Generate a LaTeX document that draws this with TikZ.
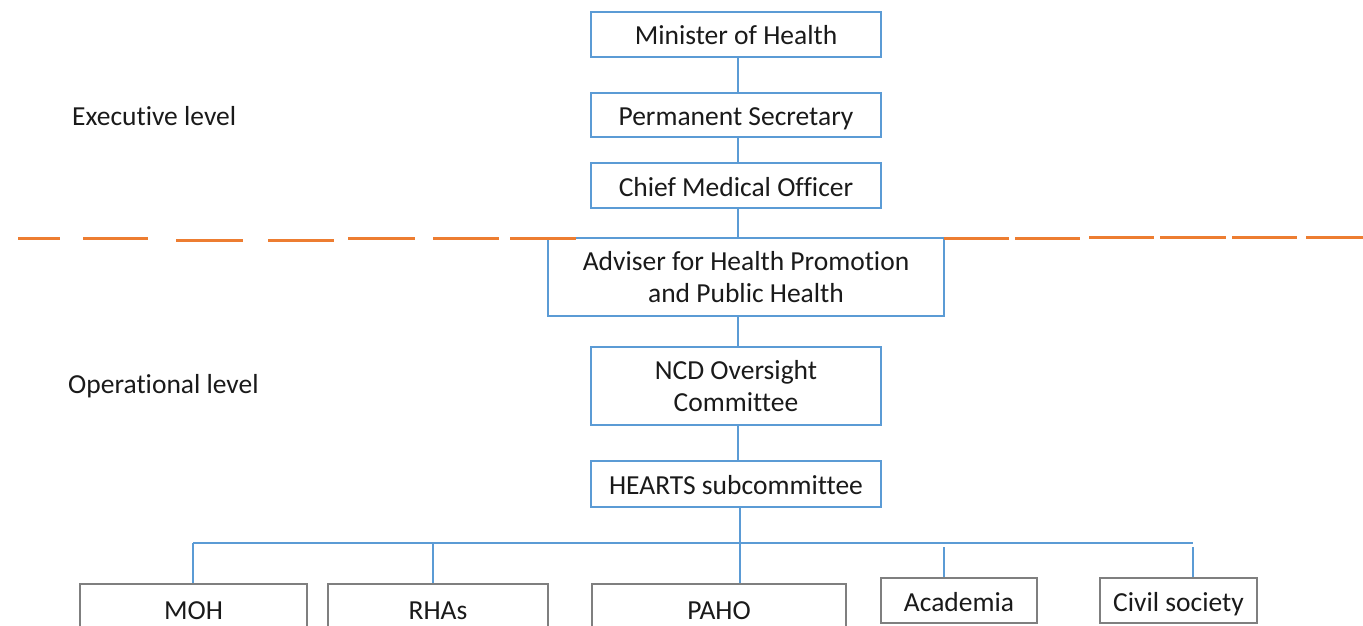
\documentclass[tikz,border=0pt]{standalone}
\usepackage{fontspec}
\setmainfont[Ligatures=NoCommon]{Carlito}
\definecolor{boxblue}{HTML}{5B9BD5}
\definecolor{dashorange}{HTML}{ED7D31}
\definecolor{boxgray}{HTML}{7F7F7F}
\definecolor{txt}{HTML}{1A1A1A}
\begin{document}
\begin{tikzpicture}[x=1pt,y=-1pt,
  every node/.style={text=txt,font=\fontsize{27.5}{32}\selectfont},
  bluebox/.style={draw=boxblue,line width=2.2pt,minimum width=290pt,inner sep=0pt,align=center},
  oneline/.style={text height=21pt,text depth=0pt},
  graybox/.style={draw=boxgray,line width=1.5pt,inner sep=0pt,align=center,text height=21pt,text depth=0pt},
  link/.style={draw=boxblue,line width=2.2pt},
  sep/.style={draw=dashorange,line width=3pt},
  lvl/.style={anchor=west,inner sep=0pt}]
\useasboundingbox (0,0) rectangle (1363,626);
% executive / operational boxes
\node[bluebox,oneline,minimum height=45pt] (min) at (736,34.5) {Minister of Health};
\node[bluebox,oneline,minimum height=44pt] (perm) at (736,115) {Permanent Secretary};
\node[bluebox,oneline,minimum height=45pt] (cmo) at (736,185.5) {Chief Medical Officer};
\node[bluebox,minimum width=396pt,minimum height=78pt] (adv) at (746,277) {Adviser for Health Promotion\\and Public Health};
\node[bluebox,minimum height=78pt] (ncd) at (736,386) {NCD Oversight\\Committee};
\node[bluebox,oneline,minimum height=46pt] (hearts) at (736,484) {HEARTS subcommittee};
% bottom boxes
\node[graybox,minimum width=227pt,minimum height=50pt] (moh) at (193.5,609) {MOH};
\node[graybox,minimum width=220pt,minimum height=50pt] (rhas) at (438,609) {RHAs};
\node[graybox,minimum width=254pt,minimum height=50pt] (paho) at (719,609) {PAHO};
\node[graybox,minimum width=156pt,minimum height=45pt] (acad) at (959,600.5) {Academia};
\node[graybox,minimum width=157pt,minimum height=45pt] (civil) at (1178.5,600.5) {Civil society};
% level labels
\node[lvl] (exec) at (72,116) {Executive level};
\node[lvl] (oper) at (68,386) {Operational level};
% vertical chain
\coordinate (spine) at (738,0);
\draw[link] (spine |- min.south) -- (spine |- perm.north);
\draw[link] (spine |- perm.south) -- (spine |- cmo.north);
\draw[link] (spine |- cmo.south) -- (spine |- adv.north);
\draw[link] (spine |- adv.south) -- (spine |- ncd.north);
\draw[link] (spine |- ncd.south) -- (spine |- hearts.north);
% bus
\coordinate (b1) at (193,543);
\coordinate (b2) at (433,543);
\coordinate (b3) at (740,543);
\coordinate (b4) at (944,543);
\coordinate (b5) at (1193,543);
\draw[link] (b3 |- hearts.south) -- (b3 |- paho.north);
\draw[link] (b1) -- (b5);
\draw[link] (b1) -- (b1 |- moh.north);
\draw[link] (b2) -- (b2 |- rhas.north);
\draw[link] ([yshift=-4pt]b4) -- (b4 |- acad.north);
\draw[link] ([yshift=-4pt]b5) -- (b5 |- civil.north);
% orange separator dashes
\foreach \a/\b/\y in {18/60/238,83/148/238,176/243/240,268/334/240,348/415/238,433/499/238,510/576/238,
  944/1009/238,1015/1080/238,1089/1154/237,1160/1226/237,1232/1297/237,1306/1363/237}
  \draw[sep] (\a,\y) -- (\b,\y);
\end{tikzpicture}
\end{document}
